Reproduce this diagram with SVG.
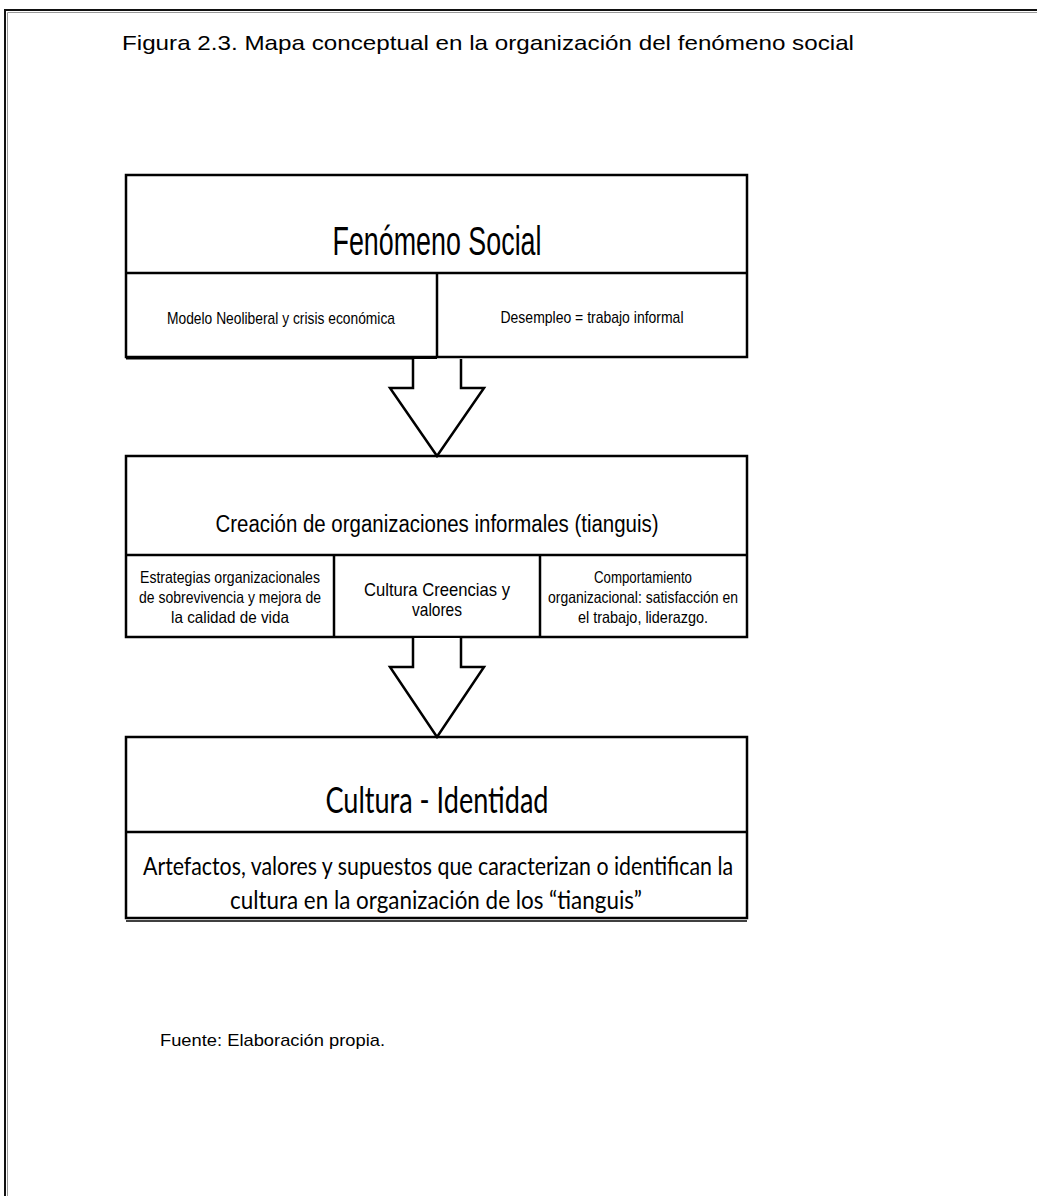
<svg xmlns="http://www.w3.org/2000/svg" width="1037" height="1196" viewBox="0 0 1037 1196">
  <style>
    .frame { fill: none; stroke: #111; stroke-width: 2; }
    .box { fill: #fff; stroke: #000; stroke-width: 2.5; }
    .line { stroke: #000; stroke-width: 2.5; fill: none; }
    .arrow { fill: #fff; stroke: #000; stroke-width: 2.5; stroke-linejoin: miter; }
    .narrow { font-family: "Liberation Sans Narrow", "Liberation Sans", Arial, sans-serif; fill: #000; }
    .cal { font-family: Lato, "Open Sans", "Liberation Sans", sans-serif; fill: #000; }
    .caption { font-family: "Liberation Sans", Arial, sans-serif; fill: #000; }
  </style>

  <rect width="1037" height="1196" fill="#fff"/>

  <!-- page frame: top and left edges only -->
  <path class="frame" d="M5,1196 V10 H1037"/>
  <path d="M7.5,1196 V12.5 H1037" fill="none" stroke="#999" stroke-width="1"/>

  <!-- figure caption -->
  <text class="narrow" x="122" y="50" font-size="21" textLength="732" lengthAdjust="spacingAndGlyphs">Figura 2.3. Mapa conceptual en la organización del fenómeno social</text>

  <!-- node 1: social phenomenon -->
  <g id="fenomeno-social">
    <rect class="box" x="126" y="175" width="621" height="182"/>
    <line class="line" x1="126" y1="273" x2="747" y2="273"/>
    <line class="line" x1="437" y1="273" x2="437" y2="357"/>
    <line x1="126" y1="358.5" x2="437" y2="358.5" stroke="#000" stroke-width="2"/>
    <text class="narrow" x="437" y="255" font-size="40" text-anchor="middle" textLength="209" lengthAdjust="spacingAndGlyphs">Fenómeno Social</text>
    <text class="narrow" x="281" y="324" font-size="17" text-anchor="middle" textLength="228" lengthAdjust="spacingAndGlyphs">Modelo Neoliberal y crisis económica</text>
    <text class="narrow" x="592" y="323" font-size="17" text-anchor="middle" textLength="183" lengthAdjust="spacingAndGlyphs">Desempleo =  trabajo informal</text>
  </g>

  <!-- node 2: informal organisations -->
  <g id="organizaciones-informales">
    <rect class="box" x="126" y="456" width="621" height="181"/>
    <line class="line" x1="126" y1="555" x2="747" y2="555"/>
    <line class="line" x1="334" y1="555" x2="334" y2="637"/>
    <line class="line" x1="540" y1="555" x2="540" y2="637"/>
    <text class="narrow" x="437" y="532" font-size="23" text-anchor="middle" textLength="443" lengthAdjust="spacingAndGlyphs">Creación de organizaciones informales (tianguis)</text>
    <g font-size="16.5" text-anchor="middle">
      <text class="narrow" x="230" y="583" textLength="180" lengthAdjust="spacingAndGlyphs">Estrategias organizacionales</text>
      <text class="narrow" x="230" y="603" textLength="182" lengthAdjust="spacingAndGlyphs">de sobrevivencia y mejora de</text>
      <text class="narrow" x="230" y="623" textLength="118" lengthAdjust="spacingAndGlyphs">la calidad de vida</text>
      <text class="narrow" x="643" y="583" textLength="98" lengthAdjust="spacingAndGlyphs">Comportamiento</text>
      <text class="narrow" x="643" y="603" textLength="190" lengthAdjust="spacingAndGlyphs">organizacional: satisfacción en</text>
      <text class="narrow" x="643" y="623" textLength="130" lengthAdjust="spacingAndGlyphs">el trabajo, liderazgo.</text>
    </g>
    <text class="narrow" x="437" y="596" font-size="18.5" text-anchor="middle" textLength="146" lengthAdjust="spacingAndGlyphs">Cultura Creencias y</text>
    <text class="narrow" x="437" y="616" font-size="18.5" text-anchor="middle" textLength="50" lengthAdjust="spacingAndGlyphs">valores</text>
  </g>

  <!-- node 3: culture and identity -->
  <g id="cultura-identidad">
    <rect class="box" x="126" y="737" width="621" height="181"/>
    <line class="line" x1="126" y1="832" x2="747" y2="832"/>
    <line x1="126" y1="921" x2="747" y2="921" stroke="#000" stroke-width="1.5"/>
    <text class="cal" x="437" y="813" font-size="36" text-anchor="middle" textLength="223" lengthAdjust="spacingAndGlyphs">Cultura - Identidad</text>
    <text class="cal" x="438" y="875" font-size="25" text-anchor="middle" textLength="590" lengthAdjust="spacingAndGlyphs">Artefactos, valores y supuestos que caracterizan o identifican la</text>
    <text class="cal" x="436" y="909" font-size="25" text-anchor="middle" textLength="412" lengthAdjust="spacingAndGlyphs">cultura en la organización de los “tianguis”</text>
  </g>

  <!-- connectors: block arrows between the levels -->
  <g id="connectors">
    <path class="arrow" d="M413,359 V388 H390 L437,456 L484,388 H461 V359"/>
    <path class="arrow" d="M413,638 V667 H390 L437,737 L484,667 H461 V638"/>
  </g>

  <!-- source note -->
  <text class="caption" x="160" y="1046" font-size="17" textLength="225" lengthAdjust="spacingAndGlyphs">Fuente: Elaboración propia.</text>
</svg>
